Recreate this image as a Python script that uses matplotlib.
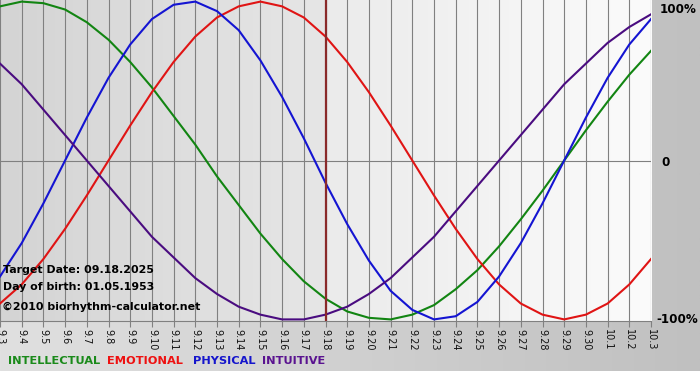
import matplotlib
matplotlib.use("Agg")
import matplotlib.pyplot as plt
import numpy as np
from matplotlib.colors import LinearSegmentedColormap

# day labels, 9.3 .. 10.3
days = ["9.3", "9.4", "9.5", "9.6", "9.7", "9.8", "9.9", "9.10", "9.11", "9.12",
        "9.13", "9.14", "9.15", "9.16", "9.17", "9.18", "9.19", "9.20", "9.21", "9.22",
        "9.23", "9.24", "9.25", "9.26", "9.27", "9.28", "9.29", "9.30", "10.1", "10.2", "10.3"]
target_idx = 15  # 9.18

# values, -1 .. 1
intellectual = [0.97, 1.00, 0.99, 0.95, 0.87, 0.76, 0.62, 0.46, 0.28, 0.10,
                -0.10, -0.28, -0.46, -0.62, -0.76, -0.87, -0.95, -0.99, -1.00, -0.97,
                -0.91, -0.81, -0.69, -0.54, -0.37, -0.19, 0.00, 0.19, 0.37, 0.54, 0.69]
emotional = [-0.90, -0.78, -0.62, -0.43, -0.22, 0.00, 0.22, 0.43, 0.62, 0.78,
             0.90, 0.97, 1.00, 0.97, 0.90, 0.78, 0.62, 0.43, 0.22, 0.00,
             -0.22, -0.43, -0.62, -0.78, -0.90, -0.97, -1.00, -0.97, -0.90, -0.78, -0.62]
physical = [-0.73, -0.52, -0.27, 0.00, 0.27, 0.52, 0.73, 0.89, 0.98, 1.00,
            0.94, 0.82, 0.63, 0.40, 0.14, -0.14, -0.40, -0.63, -0.82, -0.94,
            -1.00, -0.98, -0.89, -0.73, -0.52, -0.27, 0.00, 0.27, 0.52, 0.73, 0.89]
intuitive = [0.61, 0.48, 0.32, 0.16, 0.00, -0.16, -0.32, -0.48, -0.61, -0.74,
             -0.84, -0.92, -0.97, -1.00, -1.00, -0.97, -0.92, -0.84, -0.74, -0.61,
             -0.48, -0.32, -0.16, 0.00, 0.16, 0.32, 0.48, 0.61, 0.74, 0.84, 0.92]

names = ["INTELLECTUAL", "EMOTIONAL", "PHYSICAL", "INTUITIVE"]
series = [intellectual, emotional, physical, intuitive]
colors = ["#128512", "#e01414", "#1414d2", "#4a0c80"]
label_colors = ["#1a8a1a", "#ee1111", "#1515cc", "#5a1390"]

fig = plt.figure(figsize=(7, 3.8), dpi=100)
fig.patch.set_facecolor("white")

# gray backdrop behind everything (white strip at the very bottom)
bg = fig.add_axes([0, 9 / 380, 1, 371 / 380], zorder=0)
bg_cmap = LinearSegmentedColormap.from_list("bg", ["#e0e0e0", "#c0c0c0"])
bg.imshow(np.linspace(0, 1, 256).reshape(1, -1), cmap=bg_cmap, aspect="auto",
          extent=[0, 1, 0, 1])
bg.axis("off")

ax = fig.add_axes([0, 1 - 321 / 380, 651 / 700, 321 / 380], zorder=1)
ax.patch.set_alpha(0)
x = np.arange(len(days))
ax.set_xlim(0, len(days) - 1)
ax.set_ylim(-1.01, 1.01)

# plot area shading: darker before target date, lighter after
left_cmap = LinearSegmentedColormap.from_list("l", ["#d4d4d4", "#e6e6e6"])
right_cmap = LinearSegmentedColormap.from_list("r", ["#ebebeb", "#fbfbfb"])
grad = np.linspace(0, 1, 256).reshape(1, -1)
ax.imshow(grad, cmap=left_cmap, aspect="auto", extent=[0, target_idx, -1.01, 1.01], zorder=0)
ax.imshow(grad, cmap=right_cmap, aspect="auto", extent=[target_idx, len(days) - 1, -1.01, 1.01], zorder=0)

for xi in x:
    ax.axvline(xi, color="#808080", lw=0.8, zorder=1)
ax.axhline(0, color="#808080", lw=0.8, zorder=1)

for vals, c in zip(series, colors):
    ax.plot(x, vals, color=c, lw=1.5, zorder=3, solid_joinstyle="round")

ax.axvline(target_idx, color="#8a2a2a", lw=1.6, zorder=4)

for s in ["top", "left", "right"]:
    ax.spines[s].set_visible(False)
ax.spines["bottom"].set_color("#808080")
ax.spines["bottom"].set_linewidth(0.8)

ax.set_xticks(x)
ax.set_xticklabels(days, rotation=270, fontsize=7, color="#111111")
ax.tick_params(axis="x", direction="out", length=4.5, width=0.8, color="#808080", pad=1.5)
ax.set_yticks([])

# right side scale
ax.text(30.42, 0.95, "100%", fontsize=8.6, fontweight="bold", va="center", ha="left", clip_on=False)
ax.text(30.5, -0.01, "0", fontsize=8.6, fontweight="bold", va="center", ha="left", clip_on=False)
ax.text(30.25, -1.0, "-100%", fontsize=8.6, fontweight="bold", va="center", ha="left", clip_on=False)

# info text
fig.text(3 / 700, 1 - 270 / 380, "Target Date: 09.18.2025", fontsize=7.9, fontweight="bold", va="center", zorder=5)
fig.text(3 / 700, 1 - 287 / 380, "Day of birth: 01.05.1953", fontsize=7.9, fontweight="bold", va="center", zorder=5)
fig.text(2 / 700, 1 - 307 / 380, "\u00a92010 biorhythm-calculator.net", fontsize=7.9, fontweight="bold", va="center", zorder=5)

# legend row
xpos = [8, 107, 193, 262]
for name, c, xp in zip(names, label_colors, xpos):
    fig.text(xp / 700, 1 - 361 / 380, name, fontsize=8.2, fontweight="bold", color=c, va="center")

fig.savefig("out.png", dpi=100)
